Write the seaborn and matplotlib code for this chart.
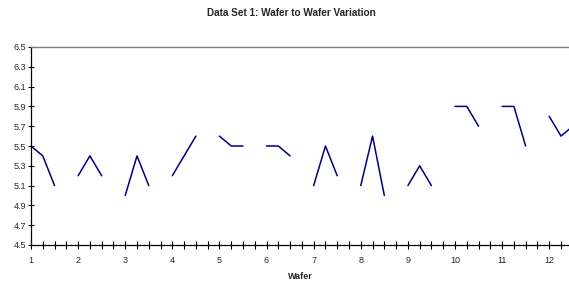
import numpy as np
import pandas as pd
import matplotlib
matplotlib.use("Agg")
import matplotlib.pyplot as plt
import seaborn as sns
from matplotlib.ticker import FixedLocator

sns.set_style("white")
plt.rcParams['font.family'] = ['Liberation Sans', 'DejaVu Sans']

wafers = list(range(1, 13))
offsets = [0.0, 0.25, 0.5]
values = [
    [5.5, 5.4, 5.1],
    [5.2, 5.4, 5.2],
    [5.0, 5.4, 5.1],
    [5.2, 5.4, 5.6],
    [5.6, 5.5, 5.5],
    [5.5, 5.5, 5.4],
    [5.1, 5.5, 5.2],
    [5.1, 5.6, 5.0],
    [5.1, 5.3, 5.1],
    [5.9, 5.9, 5.7],
    [5.9, 5.9, 5.5],
    [5.8, 5.6, 5.7],
]
yticks = [4.5, 4.7, 4.9, 5.1, 5.3, 5.5, 5.7, 5.9, 6.1, 6.3, 6.5]

rows = []
for w, vals in zip(wafers, values):
    for o, v in zip(offsets, vals):
        rows.append({"wafer": w, "x": w + o, "y": v})
df = pd.DataFrame(rows)

fig = plt.figure(figsize=(5.69, 2.83), dpi=100)
ax = fig.add_axes([31/569, 1 - 245/283, 1 - 31/569, (245 - 47)/283])

sns.lineplot(data=df, x="x", y="y", units="wafer", estimator=None,
             color="#000080", linewidth=1.1, ax=ax)

ax.set_ylim(4.5, 6.5)
ax.set_yticks(yticks)
ax.set_yticklabels([f"{t:.1f}" for t in yticks], fontsize=6.5)
ax.set_xticks(wafers)
ax.set_xticklabels([str(w) for w in wafers], fontsize=6.5)
minor = [w + o for w in wafers for o in (0.25, 0.5, 0.75)]
ax.xaxis.set_minor_locator(FixedLocator(minor))
ax.set_xlim(1, 12.42)
ax.tick_params(axis="x", which="major", direction="inout", length=6, width=0.8,
               color="black", pad=5, bottom=True)
ax.tick_params(axis="x", which="minor", direction="inout", length=6, width=0.8,
               color="black", bottom=True)
ax.tick_params(axis="y", which="major", direction="inout", length=5, width=0.8,
               color="black", pad=1, left=True)

ax.spines["right"].set_visible(False)
ax.spines["top"].set_color("#808080")
ax.spines["top"].set_linewidth(1.0)
ax.spines["left"].set_color("black")
ax.spines["bottom"].set_color("black")
ax.spines["left"].set_linewidth(0.9)
ax.spines["bottom"].set_linewidth(0.9)

ax.set_xlabel("Wafer", fontsize=6.5, fontweight="bold", labelpad=5)
ax.set_ylabel("")
fig.text(291/569, 1 - 13/283, "Data Set 1: Wafer to Wafer Variation",
         ha="center", va="center", fontsize=7.2, fontweight="bold")

fig.savefig("out.png", dpi=100)
